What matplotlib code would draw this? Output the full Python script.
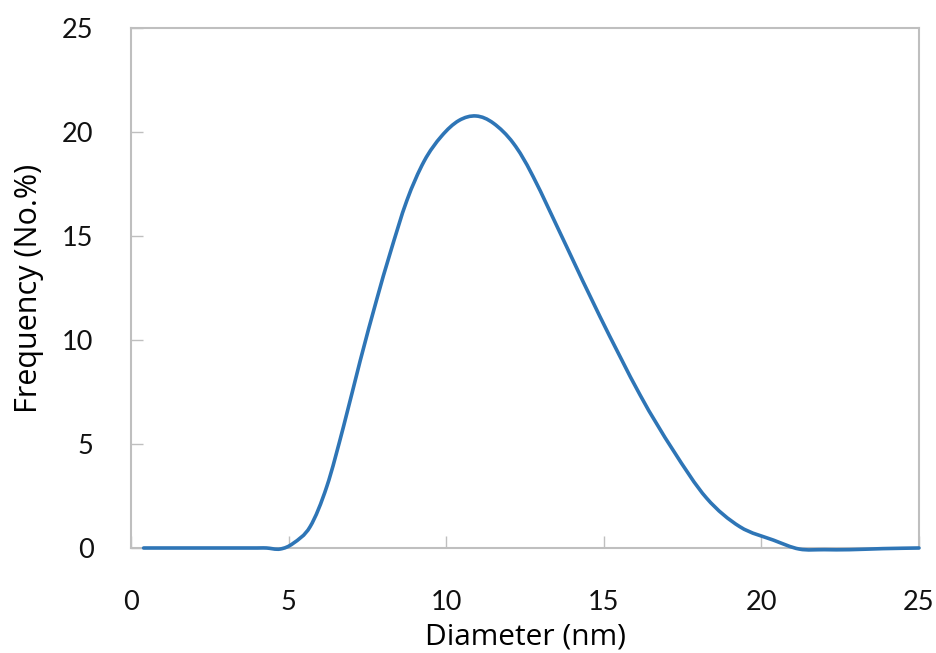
import matplotlib.pyplot as plt
from matplotlib.path import Path
from matplotlib.patches import PathPatch

# particle size distribution
diameter = [0.4, 1.0, 2.0, 3.0, 4.0, 4.3, 4.73, 5.15, 5.68, 6.21, 6.74, 7.27,
            7.79, 8.22, 8.75, 9.3, 9.85, 10.4, 10.95, 11.5, 12.13, 12.76,
            13.82, 14.88, 16.15, 17.2, 18.26, 19.32, 20.38, 21.2, 22.0, 22.8,
            23.86, 25.0]
frequency = [0, 0, 0, 0, 0, 0.0, -0.05, 0.23, 1.02, 2.95, 5.83, 9.0,
             11.92, 14.17, 16.7, 18.6, 19.8, 20.55, 20.77, 20.42, 19.46, 17.85,
             14.49, 11.12, 7.36, 4.7, 2.4, 1.02, 0.38, -0.05, -0.08, -0.08,
             -0.03, 0.0]

xticks = [0, 5, 10, 15, 20, 25]
yticks = [0, 5, 10, 15, 20, 25]

plt.rcParams['font.family'] = ['Lato', 'DejaVu Sans']


def smooth_path(xs, ys):
    # Excel-style smoothed line: cubic Bezier segments through every point
    pts = list(zip(xs, ys))
    verts = [pts[0]]
    codes = [Path.MOVETO]
    n = len(pts)
    for i in range(n - 1):
        p0 = pts[max(i - 1, 0)]
        p1 = pts[i]
        p2 = pts[i + 1]
        p3 = pts[min(i + 2, n - 1)]
        c1 = (p1[0] + (p2[0] - p0[0]) / 6, p1[1] + (p2[1] - p0[1]) / 6)
        c2 = (p2[0] - (p3[0] - p1[0]) / 6, p2[1] - (p3[1] - p1[1]) / 6)
        verts += [c1, c2, p2]
        codes += [Path.CURVE4] * 3
    return Path(verts, codes)


fig = plt.figure(figsize=(9.36, 6.53), dpi=100)
ax = fig.add_axes([0.14, 0.1608, 0.8418, 0.7963])

line = PathPatch(smooth_path(diameter, frequency), facecolor='none',
                 edgecolor='#2E75B6', linewidth=2.6, capstyle='round',
                 joinstyle='round', clip_on=False, zorder=3)
ax.add_patch(line)

ax.set_xlim(0, 25)
ax.set_ylim(0, 25)
ax.set_xticks(xticks)
ax.set_yticks(yticks)

for s in ax.spines.values():
    s.set_color('#BFBFBF')
    s.set_linewidth(1.5)

ax.tick_params(direction='in', length=8.5, width=1, color='#BFBFBF',
               labelsize=19.5, labelcolor='#111111')
ax.tick_params(axis='y', pad=27)
ax.tick_params(axis='x', pad=30)

ax.set_xlabel('Diameter (nm)', fontsize=21.5, family=['Open Sans', 'DejaVu Sans'],
              labelpad=6)
ax.set_ylabel('Frequency (No.%)', fontsize=22, family=['Open Sans', 'DejaVu Sans'],
              labelpad=13)

fig.savefig('out.png', dpi=100)
